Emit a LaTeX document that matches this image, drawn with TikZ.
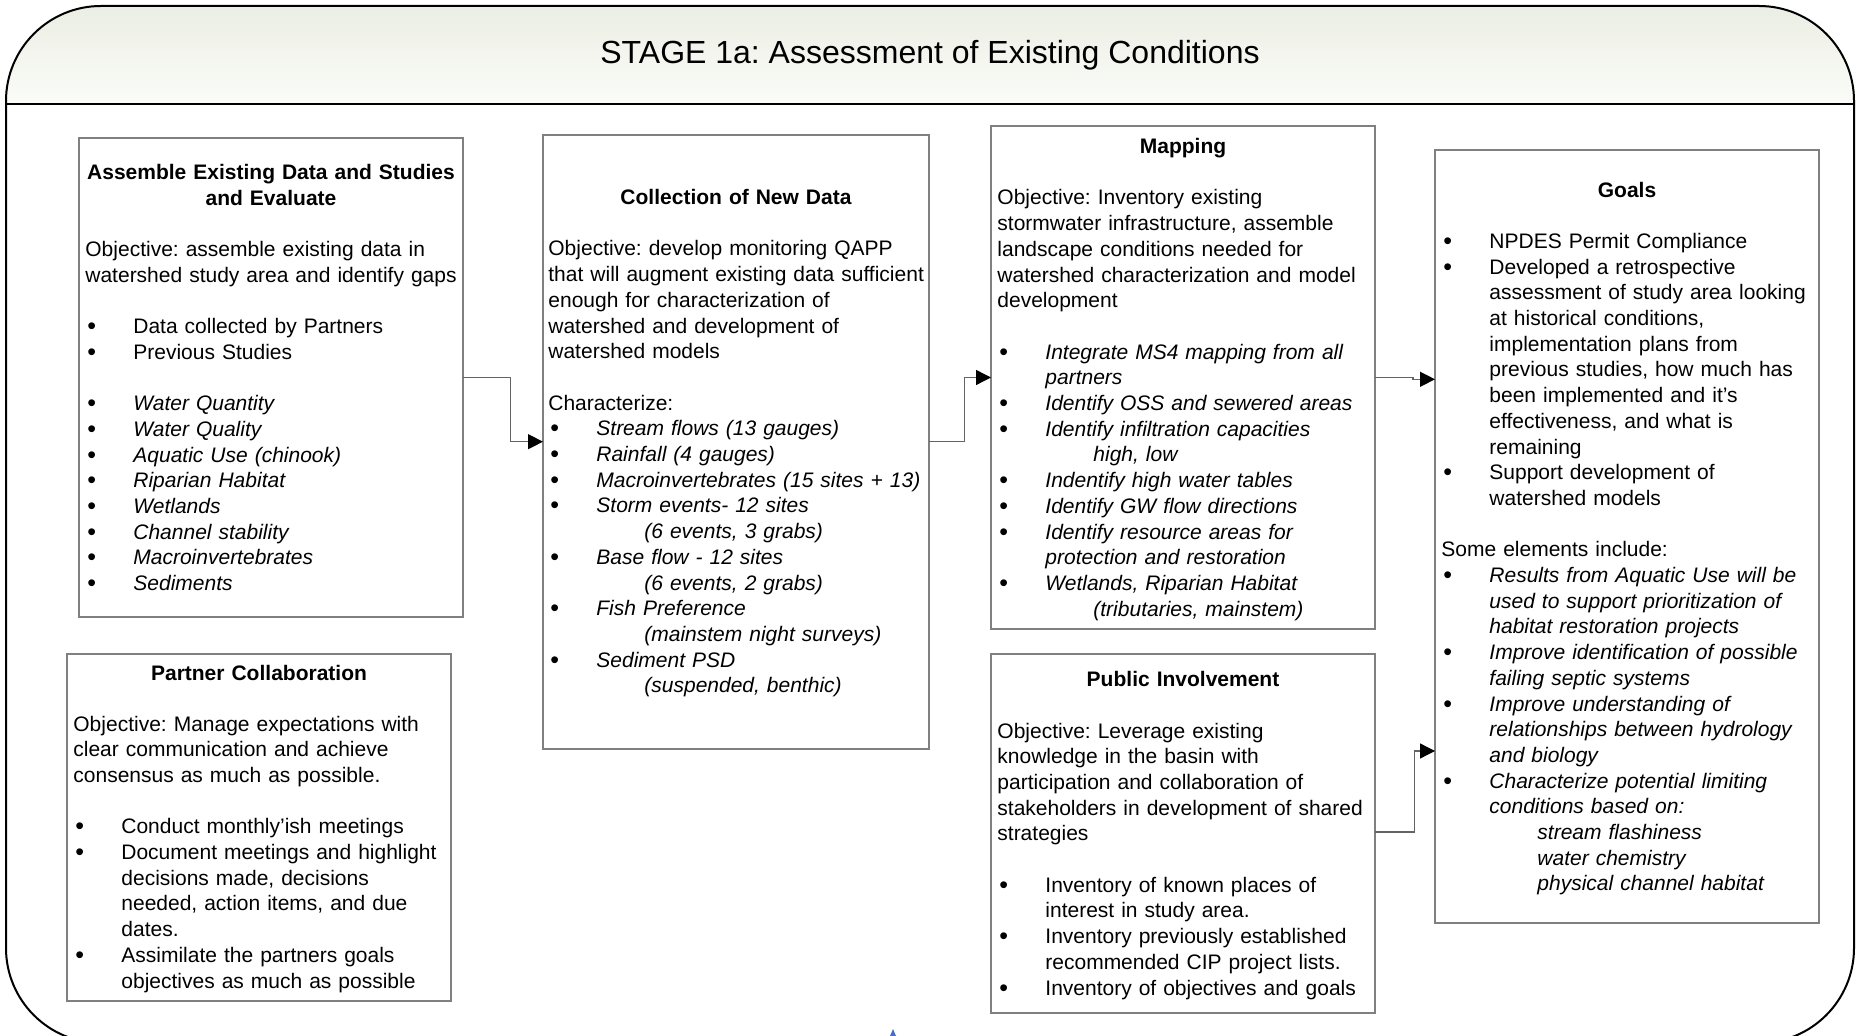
\documentclass[tikz,border=0pt]{standalone}
\usepackage{fontspec}
\setmainfont{Liberation Sans}
\usetikzlibrary{arrows.meta}
\definecolor{hdrtop}{RGB}{235,238,228}
\definecolor{hdrbot}{RGB}{251,252,248}
\definecolor{boxline}{RGB}{128,128,128}
\definecolor{connline}{RGB}{100,100,100}
\definecolor{bluemark}{RGB}{70,110,200}
\newcommand{\bi}[1]{\makebox[24pt][l]{\hspace{1pt}\raisebox{-0.5pt}{\fontsize{12.5}{12.5}\selectfont\upshape\textbullet}}#1}
\newcommand{\ci}[1]{\hspace*{24pt}#1}
\newcommand{\si}[1]{\hspace*{48pt}#1}
\newcommand{\gapline}{\\[12.85pt]}
\tikzset{
  box/.style={draw=boxline, line width=0.8pt, anchor=north west, inner sep=0pt, outer sep=0pt},
  head/.style={font=\fontsize{10.5}{12.85}\selectfont\bfseries, text width=190pt, align=center, anchor=base, inner sep=0pt},
  body/.style={font=\fontsize{10.5}{12.85}\selectfont, text width=205pt, align=left, anchor=base west, inner sep=0pt},
  conn/.style={draw=connline, line width=0.65pt, -{Triangle[length=7.5pt,width=7.5pt,color=black]}},
}
\begin{document}
\frenchspacing
\begin{tikzpicture}[x=0.5pt,y=-0.5pt]
\useasboundingbox (0,0) rectangle (1867,1036);
\clip (0,0) rectangle (1867,1036);
% header shading
\begin{scope}
  \clip[rounded corners=47.5pt] (6,6) rectangle (1854,1043);
  \shade[top color=hdrtop, bottom color=hdrbot] (6,6) rectangle (1854,104);
\end{scope}
\draw[line width=1pt, rounded corners=47.5pt] (6,6) rectangle (1854,1043);
\draw[line width=1pt] (6,104) -- (1854,104);
\node[font=\fontsize{16}{18}\selectfont, anchor=base, inner sep=0pt] (title) at (930,64) {STAGE 1a: Assessment of Existing Conditions};

% boxes
\node[box, minimum width=192pt, minimum height=239.5pt] (b1) at (79,138) {};
\node[box, minimum width=192pt, minimum height=173.5pt] (b2) at (67,654) {};
\node[box, minimum width=193pt, minimum height=307pt] (b3) at (543,135) {};
\node[box, minimum width=192pt, minimum height=251.5pt] (b4) at (991,126) {};
\node[box, minimum width=192pt, minimum height=179.5pt] (b5) at (991,654) {};
\node[box, minimum width=192pt, minimum height=386.5pt] (b6) at (1435,150) {};

% box 1
\node[head] (h1) at (271,180) {Assemble Existing Data and Studies\\and Evaluate};
\node[body] (t1) at (85,256.5) {Objective: assemble existing data in\\
watershed study area and identify gaps\gapline
\bi{Data collected by Partners}\\
\bi{Previous Studies}\gapline
{\itshape\bi{Water Quantity}\\
\bi{Water Quality}\\
\bi{Aquatic Use (chinook)}\\
\bi{Riparian Habitat}\\
\bi{Wetlands}\\
\bi{Channel stability}\\
\bi{Macroinvertebrates}\\
\bi{Sediments}}};

% box 2
\node[head] (h2) at (259,680) {Partner Collaboration};
\node[body] (t2) at (73,731) {Objective: Manage expectations with\\
clear communication and achieve\\
consensus as much as possible.\gapline
\bi{Conduct monthly’ish meetings}\\
\bi{Document meetings and highlight}\\
\ci{decisions made, decisions}\\
\ci{needed, action items, and due}\\
\ci{dates.}\\
\bi{Assimilate the partners goals}\\
\ci{objectives as much as possible}};

% box 3
\node[head] (h3) at (736,205) {Collection of New Data};
\node[body] (t3) at (548,256) {Objective: develop monitoring QAPP\\
that will augment existing data sufficient\\
enough for characterization of\\
watershed and development of\\
watershed models\gapline
Characterize:\\
{\itshape\bi{Stream flows (13 gauges)}\\
\bi{Rainfall (4 gauges)}\\
\bi{Macroinvertebrates (15 sites + 13)}\\
\bi{Storm events- 12 sites}\\
\si{(6 events, 3 grabs)}\\
\bi{Base flow - 12 sites}\\
\si{(6 events, 2 grabs)}\\
\bi{Fish Preference}\\
\si{(mainstem night surveys)}\\
\bi{Sediment PSD}\\
\si{(suspended, benthic)}}};

% box 4
\node[head] (h4) at (1183,153.5) {Mapping};
\node[body] (t4) at (997,205) {Objective: Inventory existing\\
stormwater infrastructure, assemble\\
landscape conditions needed for\\
watershed characterization and model\\
development\gapline
{\itshape\bi{Integrate MS4 mapping from all}\\
\ci{partners}\\
\bi{Identify OSS and sewered areas}\\
\bi{Identify infiltration capacities}\\
\si{high, low}\\
\bi{Indentify high water tables}\\
\bi{Identify GW flow directions}\\
\bi{Identify resource areas for}\\
\ci{protection and restoration}\\
\bi{Wetlands, Riparian Habitat}\\
\si{(tributaries, mainstem)}}};

% box 5
\node[head] (h5) at (1183,686) {Public Involvement};
\node[body] (t5) at (997,738) {Objective: Leverage existing\\
knowledge in the basin with\\
participation and collaboration of\\
stakeholders in development of shared\\
strategies\gapline
\bi{Inventory of known places of}\\
\ci{interest in study area.}\\
\bi{Inventory previously established}\\
\ci{recommended CIP project lists.}\\
\bi{Inventory of objectives and goals}};

% box 6
\node[head] (h6) at (1627,197.5) {Goals};
\node[body] (t6) at (1441,248.5) {\bi{NPDES Permit Compliance}\\
\bi{Developed a retrospective}\\
\ci{assessment of study area looking}\\
\ci{at historical conditions,}\\
\ci{implementation plans from}\\
\ci{previous studies, how much has}\\
\ci{been implemented and it’s}\\
\ci{effectiveness, and what is}\\
\ci{remaining}\\
\bi{Support development of}\\
\ci{watershed models}\gapline
Some elements include:\\
{\itshape\bi{Results from Aquatic Use will be}\\
\ci{used to support prioritization of}\\
\ci{habitat restoration projects}\\
\bi{Improve identification of possible}\\
\ci{failing septic systems}\\
\bi{Improve understanding of}\\
\ci{relationships between hydrology}\\
\ci{and biology}\\
\bi{Characterize potential limiting}\\
\ci{conditions based on:}\\
\si{stream flashiness}\\
\si{water chemistry}\\
\si{physical channel habitat}}};

% connectors
\draw[conn] (b1.east |- 0,377.5) -- (510.8,377.5) |- (b3.west |- 0,441.7);
\draw[conn] (b3.east |- 0,441.7) -- (964.5,441.7) |- (b4.west |- 0,377.5);
\draw[conn] (b4.east |- 0,377.5) -- (1413,377.5) -- (1413,379.3) -- (b6.west |- 0,379.3);
\draw[conn] (b5.east |- 0,832) -- (1414.6,832) |- (b6.west |- 0,751);

% small blue mark at bottom
\fill[bluemark] (890,1036) -- (893,1029) -- (896,1036) -- cycle;
\end{tikzpicture}
\end{document}
